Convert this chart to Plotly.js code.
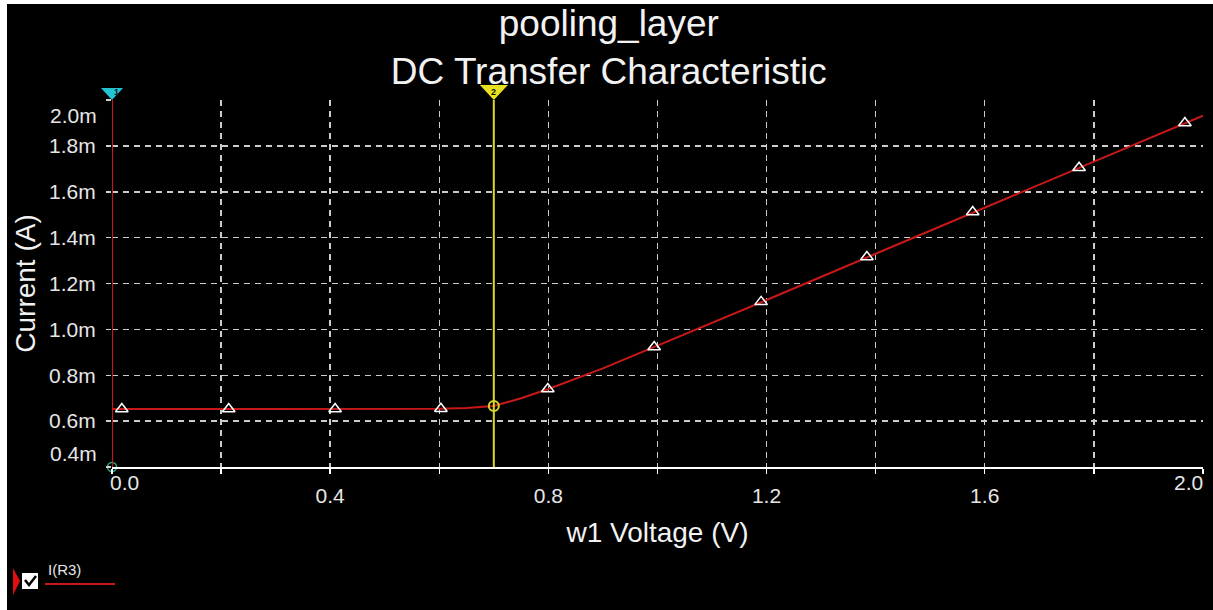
<!DOCTYPE html>
<html>
<head>
<meta charset="utf-8">
<script src="https://cdn.plot.ly/plotly-3.0.1.min.js"></script>
<style>
  html, body { margin: 0; padding: 0; background: #ffffff; width: 1213px; height: 610px; overflow: hidden; }
  #chart { position: absolute; left: 7px; top: 4px; width: 1206px; height: 606px; }
</style>
</head>
<body>
<div id="chart"></div>
<script>
// DC sweep of w1 and the resulting current through R3 (mA)
const sweepVoltage = [0, 0.1, 0.2, 0.3, 0.4, 0.5, 0.6, 0.65, 0.7, 0.75, 0.8, 0.9, 1.0, 1.2, 1.4, 1.6, 1.8, 2.0];
const currentR3    = [0.653, 0.653, 0.653, 0.653, 0.653, 0.653, 0.654, 0.657, 0.666, 0.700, 0.740, 0.830, 0.929, 1.128, 1.330, 1.530, 1.731, 1.932];

// trace marker positions along the curve
const markerVoltage = [0.018, 0.214, 0.409, 0.603, 0.799, 0.994, 1.19, 1.384, 1.578, 1.773, 1.967];
const markerCurrent = [0.653, 0.653, 0.653, 0.654, 0.740, 0.923, 1.120, 1.316, 1.512, 1.705, 1.900];

// cursors
const cursorVoltage = [0, 0.7];
const cursorCurrent = [0.4, 0.666];
const cursorLabels  = ['1', '2'];
const cursorColors  = ['#c81818', '#d8d82a'];
const cursorFlags   = ['#22c4d4', '#e8e020'];

// axes
const xRange = [0, 2.0];
const yRange = [0.4, 2.0];
const xTickVals  = [0, 0.2, 0.4, 0.6, 0.8, 1.0, 1.2, 1.4, 1.6, 1.8, 2.0];
const xTickText  = ['0.0', '', '0.4', '', '0.8', '', '1.2', '', '1.6', '', '2.0'];
const yTickVals  = [0.4, 0.6, 0.8, 1.0, 1.2, 1.4, 1.6, 1.8, 2.0];
const yTickText  = ['0.4m', '0.6m', '0.8m', '1.0m', '1.2m', '1.4m', '1.6m', '1.8m', '2.0m'];

const seriesName = 'I(R3)';
const traceColor = '#c81818';

const W = 1206, H = 606, L = 105, R = 10, T = 96, B = 143;
const PW = W - L - R, PH = H - T - B;
// page pixel -> paper fraction helpers for the decorations in the margins
const px = v => (v - 7 - L) / PW;
const py = v => 1 - (v - 4 - T) / PH;
const xToPaper = v => (v - xRange[0]) / (xRange[1] - xRange[0]);

const FONT = '"Liberation Sans", Arial, sans-serif';
const gridColor = '#cccccc';
const tickFont = { family: FONT, size: 21, color: '#e6e6e6' };

// edge tick labels are drawn inset from the frame
const innerX = xTickText.map((t, i) => (i === 0 || i === xTickText.length - 1) ? '' : t);
const innerY = yTickText.map((t, i) => (i === 0 || i === yTickText.length - 1) ? '' : t);

const traces = [
  {
    x: sweepVoltage, y: currentR3, name: seriesName, type: 'scatter', mode: 'lines',
    line: { color: traceColor, width: 2 }
  },
  {
    x: markerVoltage, y: markerCurrent, type: 'scatter', mode: 'markers', showlegend: false,
    marker: { symbol: 'triangle-up-open', size: 11, color: '#ffffff', line: { width: 1.5, color: '#ffffff' } },
    cliponaxis: false
  },
  {
    x: [cursorVoltage[0]], y: [cursorCurrent[0]], type: 'scatter', mode: 'markers', showlegend: false,
    marker: { symbol: 'circle-open', size: 9, color: '#2aa888', line: { width: 1.5 } }, cliponaxis: false
  },
  {
    x: [cursorVoltage[1]], y: [cursorCurrent[1]], type: 'scatter', mode: 'markers', showlegend: false,
    marker: { symbol: 'circle-open', size: 10, color: '#d8d82a', line: { width: 2 } }, cliponaxis: false
  }
];

const shapes = [];
const annotations = [];

// cursor lines and their flags
cursorVoltage.forEach((cx, i) => {
  shapes.push({ type: 'line', xref: 'x', yref: 'paper', x0: cx, x1: cx, y0: 0, y1: 1,
    line: { color: cursorColors[i], width: 2 }, layer: 'above' });
  const hw = i === 0 ? 11 : 14, hh = i === 0 ? 12 : 15;
  shapes.push({ type: 'path', xref: 'paper', yref: 'paper', xsizemode: 'pixel', ysizemode: 'pixel',
    xanchor: xToPaper(cx), yanchor: 1, path: `M${-hw},${hh} L${hw},${hh} L0,0 Z`,
    fillcolor: cursorFlags[i], line: { width: 0 }, layer: 'above' });
  annotations.push({ x: xToPaper(cx), y: 1, xref: 'paper', yref: 'paper', yanchor: 'bottom', yshift: 1,
    text: '<b>' + cursorLabels[i] + '</b>', showarrow: false,
    font: { family: FONT, size: 9, color: '#101010' } });
});

// inset edge tick labels
annotations.push({ x: xTickVals[0], y: 0, xref: 'x', yref: 'paper', xshift: 12, yshift: -29,
  text: xTickText[0], showarrow: false, font: tickFont });
annotations.push({ x: xTickVals[xTickVals.length - 1], y: 0, xref: 'x', yref: 'paper', xshift: -14, yshift: -29,
  text: xTickText[xTickText.length - 1], showarrow: false, font: tickFont });
annotations.push({ x: 0, y: yTickVals[yTickVals.length - 1], xref: 'paper', yref: 'y', xanchor: 'right', xshift: -13, yshift: -15,
  text: yTickText[yTickText.length - 1], showarrow: false, font: tickFont });
annotations.push({ x: 0, y: yTickVals[0], xref: 'paper', yref: 'y', xanchor: 'right', xshift: -13, yshift: 14,
  text: yTickText[0], showarrow: false, font: tickFont });

// legend entry: pointer, checkbox, name and line sample
shapes.push({ type: 'path', xref: 'paper', yref: 'paper',
  path: `M${px(13)},${py(568)} L${px(20)},${py(581)} L${px(13)},${py(595)} Z`,
  fillcolor: '#e01010', line: { width: 0 } });
shapes.push({ type: 'rect', xref: 'paper', yref: 'paper', x0: px(22), x1: px(38), y0: py(589), y1: py(573),
  fillcolor: '#ffffff', line: { width: 0 } });
shapes.push({ type: 'path', xref: 'paper', yref: 'paper',
  path: `M${px(25)},${py(580)} L${px(29)},${py(585)} L${px(36)},${py(576)}`,
  line: { color: '#000000', width: 2.5 } });
shapes.push({ type: 'line', xref: 'paper', yref: 'paper', x0: px(45), x1: px(115), y0: py(584), y1: py(584),
  line: { color: traceColor, width: 2 } });
annotations.push({ x: px(46), y: py(569), xref: 'paper', yref: 'paper', xanchor: 'left', yanchor: 'middle',
  text: seriesName, showarrow: false, font: { family: FONT, size: 15, color: '#e6e6e6' } });

const layout = {
  width: W, height: H,
  margin: { l: L, r: R, t: T, b: B, pad: 0 },
  paper_bgcolor: '#000000', plot_bgcolor: '#000000',
  font: { family: FONT, color: '#e6e6e6' },
  showlegend: false,
  title: {
    text: 'pooling_layer<br>DC Transfer Characteristic',
    font: { family: FONT, size: 37, color: '#f2f2f2' },
    x: 0.499, xref: 'container', xanchor: 'center',
    y: 0.948, yref: 'container', yanchor: 'top'
  },
  xaxis: {
    range: [xRange[0], xRange[1] + 0.0002], autorange: false,
    tickmode: 'array', tickvals: xTickVals, ticktext: innerX,
    tickfont: tickFont,
    ticks: 'outside', ticklen: 5, tickcolor: '#ffffff', tickwidth: 1.5,
    ticklabelstandoff: 4,
    showline: true, linecolor: '#ffffff', linewidth: 2,
    showgrid: true, gridcolor: gridColor, gridwidth: 1.5, griddash: '6px,5px',
    zeroline: false, automargin: false,
    title: { text: 'w1 Voltage (V)', font: { family: FONT, size: 28, color: '#f2f2f2' }, standoff: 16 }
  },
  yaxis: {
    range: [yRange[0], yRange[1] + 0.0002], autorange: false,
    tickmode: 'array', tickvals: yTickVals, ticktext: innerY,
    tickfont: tickFont,
    ticks: 'outside', ticklen: 5, tickcolor: '#d0d0d0', tickwidth: 1.5,
    ticklabelstandoff: 6,
    showline: false,
    showgrid: true, gridcolor: gridColor, gridwidth: 1.5, griddash: '6px,5px',
    zeroline: false, automargin: false,
    title: { text: 'Current (A)', font: { family: FONT, size: 28, color: '#f2f2f2' }, standoff: 5 }
  },
  shapes: shapes,
  annotations: annotations
};

Plotly.newPlot('chart', traces, layout, { displayModeBar: false, staticPlot: true });
</script>
</body>
</html>
